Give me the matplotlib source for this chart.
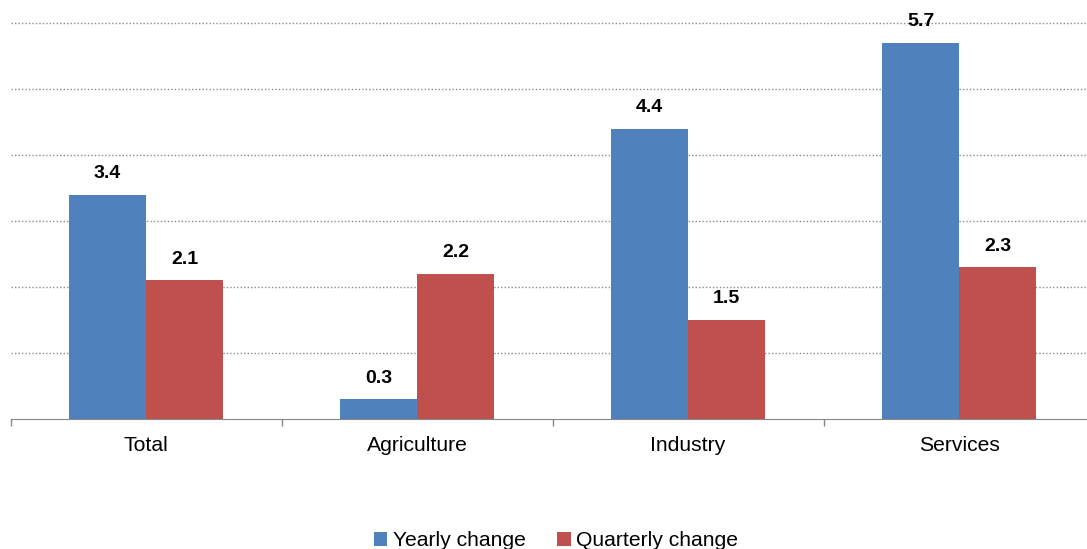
import matplotlib
matplotlib.use('Agg')
import matplotlib.pyplot as plt
import numpy as np

# data
categories = ['Total', 'Agriculture', 'Industry', 'Services']
yearly_change = [3.4, 0.3, 4.4, 5.7]
quarterly_change = [2.1, 2.2, 1.5, 2.3]
series_names = ['Yearly change', 'Quarterly change']

plt.rcParams['font.family'] = ['Liberation Sans', 'DejaVu Sans']

W, H = 1087, 549
fig = plt.figure(figsize=(W / 100, H / 100), dpi=100)
# axes placed in pixels: left 10.5, bottom at y=419, top at figure edge
ax = fig.add_axes([10.5 / W, (H - 419) / H, 1084 / W, 419 / H])

x = np.arange(len(categories))
w = 0.284
b1 = ax.bar(x - w / 2, yearly_change, w, color='#4F81BD', label=series_names[0])
b2 = ax.bar(x + w / 2, quarterly_change, w, color='#C0504D', label=series_names[1])

for bars, vals in ((b1, yearly_change), (b2, quarterly_change)):
    for rect, v in zip(bars, vals):
        ax.annotate(f'{v:.1f}', (rect.get_x() + rect.get_width() / 2, rect.get_height()),
                    xytext=(0, 12), textcoords='offset points',
                    ha='center', va='baseline', fontsize=14, fontweight='bold')

ax.set_xlim(-0.5, 3.5)
ax.set_ylim(0, 419 / 66)
ax.set_yticks([1, 2, 3, 4, 5, 6])
ax.yaxis.grid(True, linestyle=(0, (1, 1.5)), color='#8c8c8c', linewidth=1)
ax.set_axisbelow(True)
ax.tick_params(axis='y', length=0, labelleft=False)

ax.set_xticks(x)
ax.set_xticklabels(categories, fontsize=15.2)
ax.set_xticks(np.arange(-0.5, 4, 1), minor=True)
ax.tick_params(axis='x', which='major', length=0, pad=12.5)
ax.tick_params(axis='x', which='minor', length=5, color='#888888', width=1)

for s in ('top', 'right', 'left'):
    ax.spines[s].set_visible(False)
ax.spines['bottom'].set_color('#888888')

fig.legend(loc='center', bbox_to_anchor=(556 / W, 1 - 541 / H), ncol=2, frameon=False,
           fontsize=15.2, handlelength=0.65, handleheight=0.65, handletextpad=0.25,
           columnspacing=1.5)

fig.savefig('out.png', dpi=100)
